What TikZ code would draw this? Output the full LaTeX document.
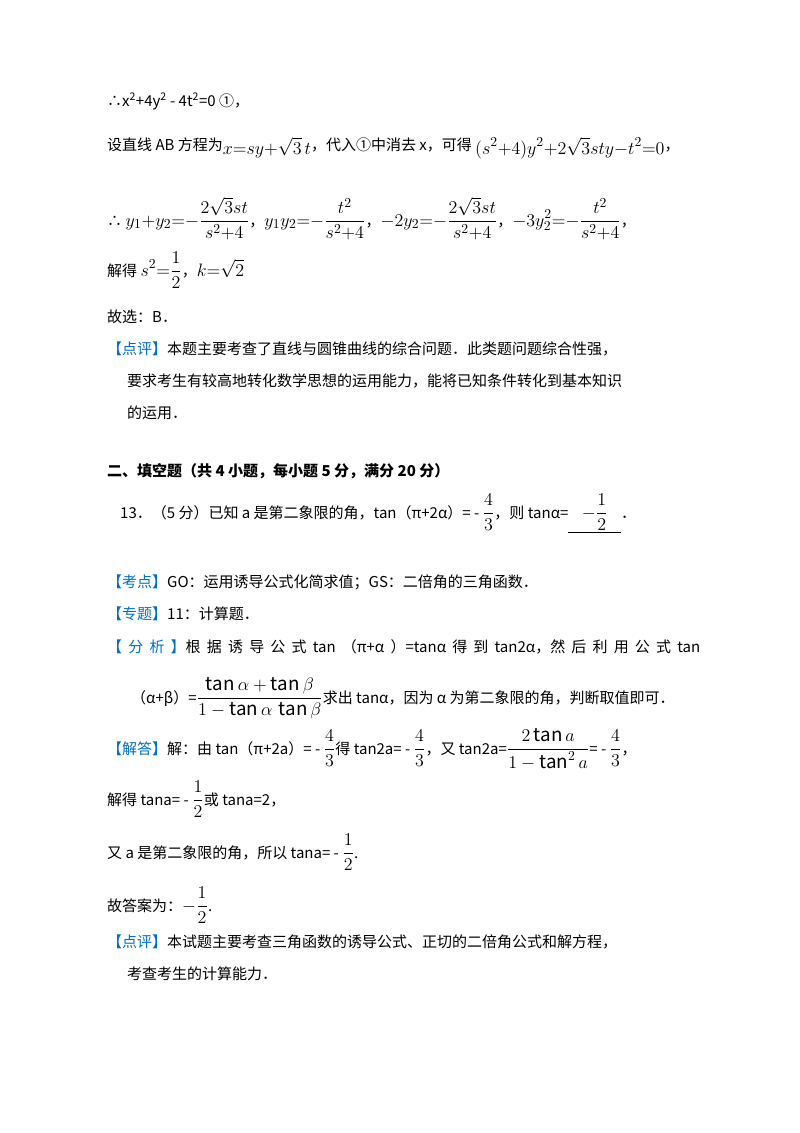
\documentclass[tikz,border=0pt]{standalone}
\usepackage{amsmath}
\usepackage{fontspec}
\setmainfont{Noto Sans CJK SC}
\definecolor{kblue}{RGB}{0,112,192}
\newcommand\MM[1]{\scalebox{1.25}{$\displaystyle #1$}}
\begin{document}
\begin{tikzpicture}[x=1pt,y=-1pt,
  t/.style={anchor=base west,inner sep=0pt,font=\fontsize{15}{18}\selectfont}]
\useasboundingbox[fill=white] (0,0) rectangle (800,1133);
\node[t] (l1) at (107,106) {∴x\textsuperscript{2}+4y\textsuperscript{2} - 4t\textsuperscript{2}=0 ①，};
\node[t] (l2) at (107,150) {设直线 AB 方程为\raisebox{-4pt}{\MM{x{=}sy{+}\sqrt{3}\,t}}，代入①中消去 x，可得 \raisebox{-4pt}{\MM{(s^2{+}4)y^2{+}2\sqrt{3}sty{-}t^2{=}0}}，};
\node[t] (l3) at (107,226) {∴ \MM{y_1{+}y_2{=}{-}\frac{2\sqrt{3}st}{s^2{+}4}}，\MM{y_1y_2{=}{-}\frac{t^2}{s^2{+}4}}，\MM{-2y_2{=}{-}\frac{2\sqrt{3}st}{s^2{+}4}}，\MM{-3y_2^2{=}{-}\frac{t^2}{s^2{+}4}}，};
\node[t] (l4) at (107,276) {解得 \MM{s^2{=}\frac{1}{2}}，\MM{k{=}\sqrt{2}}};
\node[t] (l5) at (107,322) {故选：B．};
\node[t] (l6) at (107,354) {\textcolor{kblue}{【点评】}本题主要考查了直线与圆锥曲线的综合问题．此类题问题综合性强，};
\node[t] (l7) at (127,386) {要求考生有较高地转化数学思想的运用能力，能将已知条件转化到基本知识};
\node[t] (l8) at (127,418) {的运用．};
\node[t,font=\fontsize{15}{18}\selectfont\bfseries] (h) at (107,476) {二、填空题（共 4 小题，每小题 5 分，满分 20 分）};
\node[t] (q) at (120,518) {13．（5 分）已知 a 是第二象限的角，tan（π+2α）= - \MM{\frac{4}{3}}，则 tanα=\underline{\ \ \ \ \MM{-\frac{1}{2}}\ \ \ \ }．};
\node[t] (k1) at (107,587) {\textcolor{kblue}{【考点】}GO：运用诱导公式化简求值；GS：二倍角的三角函数．};
\node[t] (k2) at (107,619) {\textcolor{kblue}{【专题】}11：计算题．};
\node[t] (k3) at (107,652) {\makebox[593pt][s]{\textcolor{kblue}{【 分 析 】}根 据 诱 导 公 式 tan （π+α ）=tanα 得 到 tan2α，然 后 利 用 公 式 tan}};
\node[t] (k4) at (131,703) {（α+β）=\MM{\frac{\tan\alpha+\tan\beta}{1-\tan\alpha\,\tan\beta}}求出 tanα，因为 α 为第二象限的角，判断取值即可．};
\node[t] (j1) at (107,754) {\textcolor{kblue}{【解答】}解：由 tan（π+2a）= - \MM{\frac{4}{3}}得 tan2a= - \MM{\frac{4}{3}}，又 tan2a=\MM{\frac{2\tan a}{1-\tan^2 a}}= - \MM{\frac{4}{3}}，};
\node[t] (j2) at (107,805) {解得 tana= - \MM{\frac{1}{2}}或 tana=2，};
\node[t] (j3) at (107,858) {又 a 是第二象限的角，所以 tana= - \MM{\frac{1}{2}}.};
\node[t] (j4) at (107,911) {故答案为：\MM{-\frac{1}{2}}.};
\node[t] (p1) at (107,947) {\textcolor{kblue}{【点评】}本试题主要考查三角函数的诱导公式、正切的二倍角公式和解方程，};
\node[t] (p2) at (127,979) {考查考生的计算能力．};
\end{tikzpicture}
\end{document}
